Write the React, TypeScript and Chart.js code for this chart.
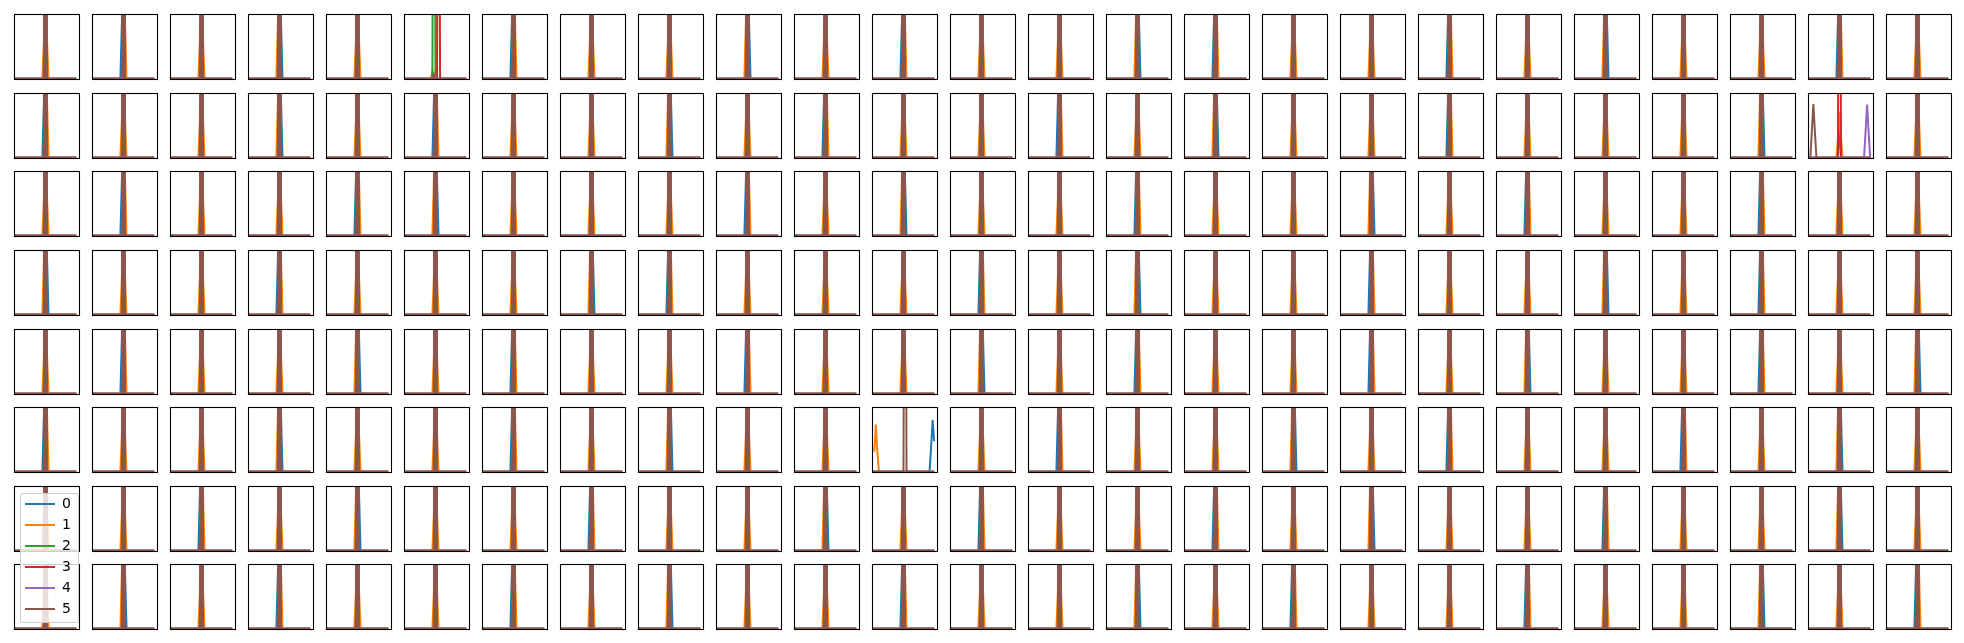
import React, { useEffect, useRef } from "react";
import { Chart, registerables } from "chart.js";

Chart.register(...registerables);
Chart.defaults.font.family = "'DejaVu Sans', sans-serif";

// ---------- data ----------
const SERIES_NAMES = ["0", "1", "2", "3", "4", "5"];
const SERIES_COLORS = ["#1f77b4", "#ff7f0e", "#2ca02c", "#d62728", "#9467bd", "#8c564b"];
const N_ROWS = 8;
const N_COLS = 25;

// x values run over sample indices 0..40; y values normalised to the visible range
const SPIKE = [[0, 0], [19, 0], [20, 8], [21, 0], [40, 0]];
const WIDE_BOTH = [[0, 0], [18, 0], [19, 0.6], [20, 8], [21, 0.6], [22, 0], [40, 0]];
const WIDE_LEFT = [[0, 0], [18, 0], [19, 0.9], [20, 8], [21, 0], [40, 0]];
const WIDE_RIGHT = [[0, 0], [19, 0], [20, 8], [21, 0.9], [22, 0], [40, 0]];
const FLAT = [[0, 0], [40, 0]];

// special panel r0 c5
const P1_BLUE = [[0, 0], [18, 0], [19, 0.06], [20, 0], [40, 0]];
const P1_ORANGE = [[0, 0], [17, 0], [18, 0.12], [19, 0.05], [20, 0], [40, 0]];
const P1_GREEN = [[0, 0], [18, 0], [19, 8], [20, 0], [40, 0]];
const P1_RED = [[0, 0], [21, 0], [22, 8], [23, 0], [40, 0]];
const P1_PURPLE = [[0, 0], [19, 0], [20, 0.04], [21, 0], [40, 0]];
const P1_BROWN = [[0, 0], [18, 0], [19, 0.06], [20, 0], [40, 0]];

// special panel r1 c23
const P2_BLUE = [[0, 0], [19, 0], [20, 0.5], [21, 0], [40, 0]];
const P2_ORANGE = [[0, 0], [18, 0], [19, 0.3], [20, 0.7], [21, 0.3], [22, 0], [40, 0]];
const P2_RED = [[0, 0], [19, 0], [20, 8], [21, 0], [40, 0]];
const P2_PURPLE = [[0, 0], [36, 0], [37, 0.4], [38, 0.82], [39, 0.4], [40, 0]];
const P2_BROWN = [[0, 0], [1, 0], [2, 0.4], [3, 0.83], [4, 0.4], [5, 0], [40, 0]];

// special panel r5 c11
const P3_BLUE = [[0, 0], [37, 0], [38, 0.38], [39, 0.8], [40, 0.47]];
const P3_ORANGE = [[1, 0.31], [2, 0.73], [3, 0.3], [4, 0], [40, 0]];
const P3_BROWN = [[0, 0], [20, 0], [21, 8], [22, 0], [40, 0]];

const TEMPLATES: Record<string, number[][][]> = {
  A: [SPIKE, WIDE_BOTH, SPIKE, SPIKE, SPIKE, SPIKE],
  B: [WIDE_LEFT, WIDE_RIGHT, SPIKE, SPIKE, SPIKE, SPIKE],
  C: [WIDE_RIGHT, WIDE_LEFT, SPIKE, SPIKE, SPIKE, SPIKE],
  "1": [P1_BLUE, P1_ORANGE, P1_GREEN, P1_RED, P1_PURPLE, P1_BROWN],
  "2": [P2_BLUE, P2_ORANGE, FLAT, P2_RED, P2_PURPLE, P2_BROWN],
  "3": [P3_BLUE, P3_ORANGE, FLAT, FLAT, FLAT, P3_BROWN],
};
// templates whose near-vertical spike legs merge into a solid band
const FILLED_KINDS = ["A", "B", "C"];
const FILLED_SERIES = [false, false, true, true, true, true];

const PANEL_LAYOUT = [
  "ABACA1BAACABAACBAABACAABA",
  "BAACABAACABAABACAABAAAC2A",
  "ABAABCAAABACAABAACABAABAA",
  "CAABAAACBAAABACAABAACABAA",
  "ABAACABAABAACABAABACAABAC",
  "BAACAABACAA3ABAACABAABACA",
  "AABACAABAACABAABACAABAACA",
  "ACABAABACAABAACABAABAACAB",
];

const X_MIN = -0.5;
const X_MAX = 42.5;
const Y_MIN = -0.02;
const Y_MAX = 1;

// ---------- layout ----------
const COL_X0 = 14;
const COL_STEP = 78;
const ROW_Y0 = 14.3;
const ROW_STEP = 78.57;
const BOX = 66;
const PAD = 2;

const framePlugin = {
  id: "frame",
  afterDraw(chart: any) {
    const { ctx, chartArea } = chart;
    ctx.save();
    ctx.strokeStyle = "#000";
    ctx.lineWidth = 1.1;
    ctx.strokeRect(chartArea.left + 0.5, chartArea.top + 0.5, chartArea.width - 1, chartArea.height - 1);
    ctx.restore();
  },
};

function Panel({ row, col, kind }: { row: number; col: number; kind: string }) {
  const ref = useRef<HTMLCanvasElement | null>(null);
  useEffect(() => {
    if (!ref.current) return;
    const series = TEMPLATES[kind] || TEMPLATES.A;
    const filled = FILLED_KINDS.includes(kind);
    const chart = new Chart(ref.current, {
      type: "line",
      data: {
        datasets: series.map((pts, i) => ({
          label: SERIES_NAMES[i],
          data: pts.map(([x, y]) => ({ x, y })),
          borderColor: SERIES_COLORS[i],
          backgroundColor: SERIES_COLORS[i],
          borderWidth: 2,
          pointRadius: 0,
          tension: 0,
          fill: filled && FILLED_SERIES[i] ? "origin" : false,
          order: series.length - i, // later series drawn on top, like matplotlib
        })),
      },
      options: {
        responsive: false,
        devicePixelRatio: 1,
        animation: false,
        events: [],
        layout: { padding: PAD },
        scales: {
          x: { type: "linear", min: X_MIN, max: X_MAX, display: false },
          y: { type: "linear", min: Y_MIN, max: Y_MAX, display: false },
        },
        plugins: { legend: { display: false }, tooltip: { enabled: false } },
      },
      plugins: [framePlugin],
    });
    return () => chart.destroy();
  }, [kind]);
  const left = COL_X0 + COL_STEP * col - PAD;
  const top = Math.round(ROW_Y0 + ROW_STEP * row) - PAD;
  return (
    <canvas
      ref={ref}
      width={BOX + 2 * PAD}
      height={BOX + 2 * PAD}
      style={{ position: "absolute", left, top, width: BOX + 2 * PAD, height: BOX + 2 * PAD }}
    />
  );
}

function LegendBox() {
  const ref = useRef<HTMLCanvasElement | null>(null);
  useEffect(() => {
    if (!ref.current) return;
    const chart = new Chart(ref.current, {
      type: "line",
      data: {
        datasets: SERIES_NAMES.map((name, i) => ({
          label: name,
          data: [],
          borderColor: SERIES_COLORS[i],
          backgroundColor: SERIES_COLORS[i],
          borderWidth: 2,
        })),
      },
      options: {
        responsive: false,
        devicePixelRatio: 1,
        animation: false,
        events: [],
        layout: { padding: 0 },
        scales: { x: { display: false }, y: { display: false } },
        plugins: {
          tooltip: { enabled: false },
          legend: {
            display: true,
            position: "left",
            align: "start",
            labels: {
              usePointStyle: true,
              pointStyleWidth: 30,
              padding: 7,
              color: "#000",
              font: { size: 14, family: "'DejaVu Sans', sans-serif" },
              generateLabels: (ch: any) =>
                ch.data.datasets.map((ds: any, i: number) => ({
                  text: ds.label,
                  fillStyle: SERIES_COLORS[i],
                  strokeStyle: SERIES_COLORS[i],
                  lineWidth: 2,
                  pointStyle: "line",
                  rotation: 0,
                  hidden: false,
                  datasetIndex: i,
                  lineCap: "butt",
                })),
            },
          },
        },
      },
    });
    return () => chart.destroy();
  }, []);
  return (
    <>
      <div
        style={{
          position: "absolute",
          left: 20,
          top: 493,
          width: 59,
          height: 130,
          boxSizing: "border-box",
          border: "1px solid #cccccc",
          borderRadius: 3,
          background: "rgba(255,255,255,0.8)",
        }}
      />
      <canvas
        ref={ref}
        width={120}
        height={150}
        style={{ position: "absolute", left: 18, top: 490, width: 120, height: 150 }}
      />
    </>
  );
}

export default function App() {
  const panels = [];
  for (let r = 0; r < N_ROWS; r++) {
    for (let c = 0; c < N_COLS; c++) {
      const kind = (PANEL_LAYOUT[r] || "")[c] || "A";
      panels.push(<Panel key={`${r}-${c}`} row={r} col={c} kind={kind} />);
    }
  }
  return (
    <div style={{ position: "absolute", left: 0, top: 0, width: 1964, height: 643, background: "#fff" }}>
      {panels}
      <LegendBox />
    </div>
  );
}
